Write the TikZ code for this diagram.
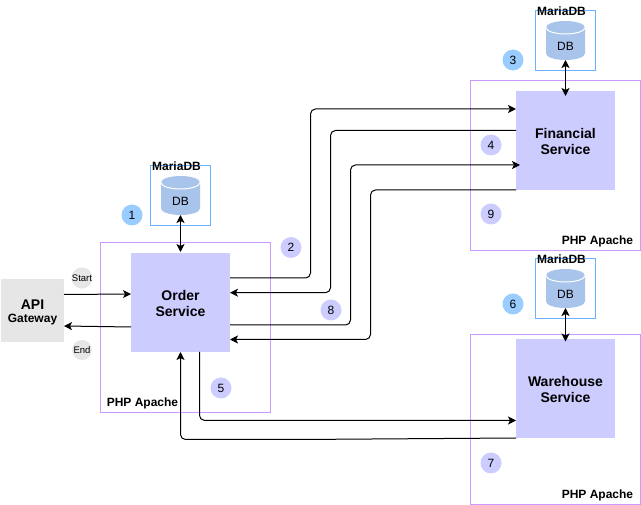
\documentclass[tikz,border=0pt]{standalone}
\usepackage{fontspec}
\setmainfont{Liberation Sans}
\usetikzlibrary{arrows.meta}

\definecolor{servicefill}{HTML}{CCCCFF}
\definecolor{hostline}{HTML}{CC99FF}
\definecolor{dbline}{HTML}{66B2FF}
\definecolor{dbfill}{HTML}{A9C4EB}
\definecolor{stepblue}{HTML}{99CCFF}
\definecolor{gatewayfill}{HTML}{E6E6E6}

\begin{document}
\begin{tikzpicture}[
    x=1pt,y=-1pt,
    service/.style={fill=servicefill,inner sep=0pt,outer sep=0pt,minimum size=99pt,align=center,
      font=\fontsize{14}{16}\selectfont\bfseries},
    host/.style={draw=hostline,line width=1pt,inner sep=0pt,outer sep=0pt,minimum size=170pt},
    dbbox/.style={draw=dbline,line width=1pt,inner sep=0pt,outer sep=0pt,minimum size=60pt},
    db/.style={inner sep=0pt,outer sep=0pt,minimum size=39pt},
    dbtext/.style={font=\fontsize{12}{14}\selectfont,inner sep=0pt},
    tag/.style={font=\fontsize{12}{14}\selectfont\bfseries,inner sep=0pt},
    num/.style={circle,inner sep=0pt,minimum size=21pt,font=\fontsize{12}{14}\selectfont},
    flow/.style={line width=1pt,rounded corners=5pt,-{Stealth[length=8pt,width=8pt,inset=2pt]}},
    dbflow/.style={line width=1pt,{Stealth[length=8pt,width=8pt,inset=2pt]}-{Stealth[length=8pt,width=8pt,inset=2pt]}}
    ]

    \useasboundingbox (0,0) rectangle (641,505);

    % hosts:
    \node (hostorder) at (185.5,327.5) [host] {};
    \node (hostfin) at (555.5,165.5) [host] {};
    \node (hostware) at (555.5,419.5) [host] {};

    \node (taghostorder) at (142.5,403.7) [tag] {PHP Apache};
    \node (taghostfin) at (597.5,241) [tag] {PHP Apache};
    \node (taghostware) at (597.5,495) [tag] {PHP Apache};

    % services:
    \node (order) at (180.5,302.5) [service] {\rule{0pt}{13pt}Order\\Service};
    \node (fin) at (565.5,140.5) [service] {\rule{0pt}{13pt}Financial\\Service};
    \node (ware) at (565.5,388.5) [service] {\rule{0pt}{13pt}Warehouse\\Service};

    \node (gateway) at (32.5,310.5) [fill=gatewayfill,inner sep=0pt,outer sep=0pt,minimum size=63pt,align=center] {
      {\fontsize{14}{16}\selectfont\bfseries\rule{0pt}{13pt}API}\\[1pt]{\fontsize{12}{14}\selectfont\bfseries Gateway}
    };

    % databases:
    \foreach \name/\x/\y in {order/180.5/195.5,fin/565.5/40.5,ware/565.5/288.5} {
      \node (box\name) at (\x,\y) [dbbox] {};
      \node (db\name) at (\x,\y) [db] {};
      \fill [dbfill] ([yshift=-6.5pt]db\name.north west)
        arc [x radius=19.5pt,y radius=6.5pt,start angle=180,end angle=0]
        -- ([yshift=6.5pt]db\name.south east)
        arc [x radius=19.5pt,y radius=6.5pt,start angle=0,end angle=-180] -- cycle;
      \draw [white,line width=1pt] ([yshift=-6.5pt]db\name.north west)
        arc [x radius=19.5pt,y radius=6.5pt,start angle=180,end angle=360];
      \node (text\name) at ([yshift=-6pt]db\name.center) [dbtext] {DB};
      \node (tag\name) at (\x-4,\y-29.5) [tag] {MariaDB};
    }

    % numbered steps:
    \foreach \n/\x/\y/\c in {1/132/215/stepblue,3/513/60/stepblue,6/513/304/stepblue,
      2/291/247.5/servicefill,4/491/145/servicefill,5/221/388/servicefill,
      7/491/463/servicefill,8/331/310/servicefill,9/491/214/servicefill}
    \node (step\n) at (\x,\y) [num,fill=\c] {\n};

    \node (start) at (82,278) [num,fill=gatewayfill,minimum size=20pt,font=\fontsize{9.5}{11}\selectfont] {Start};
    \node (end) at (82,350) [num,fill=gatewayfill,minimum size=20pt,font=\fontsize{9.5}{11}\selectfont] {End};

    % bends:
    \coordinate (bendA) at (310.5,200);
    \coordinate (bendB) at (330.5,200);
    \coordinate (bendC) at (350.5,200);
    \coordinate (bendD) at (370.5,200);
    \coordinate (bendE) at (300,420.4);
    \coordinate (bendF) at (300,439.5);

    % connections:
    \draw [flow] ([yshift=16pt]gateway.east) to ([yshift=8.5pt]order.west);
    \draw [flow] ([yshift=-24.5pt]order.west) to ([yshift=-15.5pt]gateway.east);

    \draw [flow] ([yshift=24.5pt]order.east) -| (bendA) |- ([yshift=31.5pt]fin.west);
    \draw [flow] ([yshift=10pt]fin.west) -| (bendB) |- ([yshift=9.8pt]order.east);
    \draw [flow] ([yshift=-22.5pt]order.east) -| (bendC) |- ([xshift=4pt,yshift=-24.5pt]fin.west);
    \draw [flow] (fin.south west) -| (bendD) |- ([yshift=-37pt]order.east);

    \draw [flow] ([xshift=19pt]order.south) |- (bendE) -- ([yshift=-32pt]ware.west);
    \draw [flow] (ware.south west) -- (bendF) -| (order.south);

    \draw [dbflow] (dborder.south) to ([yshift=1pt]order.north);
    \draw [dbflow] (dbfin.south) to ([yshift=-5pt]fin.north);
    \draw [dbflow] (dbware.south) to ([yshift=-2.5pt]ware.north);

\end{tikzpicture}
\end{document}
